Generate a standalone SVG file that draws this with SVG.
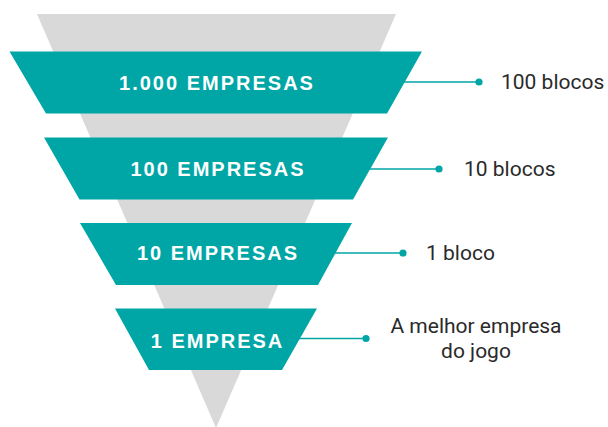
<svg xmlns="http://www.w3.org/2000/svg" width="608" height="427" viewBox="0 0 608 427">
<style>
.band{fill:#00A6A6}
.bt{fill:#ffffff;font-family:"Liberation Sans",Arial,sans-serif;font-weight:bold;font-size:20px;letter-spacing:2px;text-anchor:middle}
.lb{fill:#2a2a2a;font-family:Roboto,"Liberation Sans",sans-serif;font-weight:400;font-size:21px}
.ln{stroke:#00A6A6;stroke-width:1.6;fill:none}
.dot{fill:#00A6A6}
</style>
<rect width="608" height="427" fill="#ffffff"/>
<polygon id="funnel" points="37,14 396,14 216,428" fill="#D9D9D9"/>
<g id="connectors">
<line class="ln" x1="395" y1="82" x2="479" y2="82"/>
<circle class="dot" cx="479" cy="82" r="3.6"/>
<line class="ln" x1="362" y1="169" x2="439" y2="169"/>
<circle class="dot" cx="439" cy="169" r="3.6"/>
<line class="ln" x1="328" y1="253" x2="403" y2="253"/>
<circle class="dot" cx="403" cy="253" r="3.6"/>
<line class="ln" x1="293" y1="338.5" x2="366" y2="338.5"/>
<circle class="dot" cx="366" cy="338.5" r="3.6"/>
</g>
<g id="node1">
<polygon class="band" points="9.5,51.5 422,51.5 387,113.5 46,113.5"/>
<text class="bt" x="217" y="90">1.000 EMPRESAS</text>
</g>
<g id="node2">
<polygon class="band" points="44,137.5 388,137.5 353,199.5 79.5,199.5"/>
<text class="bt" x="218" y="176">100 EMPRESAS</text>
</g>
<g id="node3">
<polygon class="band" points="80,223 352,223 318,285 116,285"/>
<text class="bt" x="218" y="260">10 EMPRESAS</text>
</g>
<g id="node4">
<polygon class="band" points="115,308.5 317,308.5 282,370 149,370"/>
<text class="bt" x="217.5" y="348">1 EMPRESA</text>
</g>
<g id="label1"><text class="lb" x="501" y="89">100 blocos</text></g>
<g id="label2"><text class="lb" x="464" y="176">10 blocos</text></g>
<g id="label3"><text class="lb" x="426" y="260">1 bloco</text></g>
<g id="label4">
<text class="lb" x="476" y="333" text-anchor="middle">A melhor empresa</text>
<text class="lb" x="476" y="358" text-anchor="middle">do jogo</text>
</g>
</svg>
